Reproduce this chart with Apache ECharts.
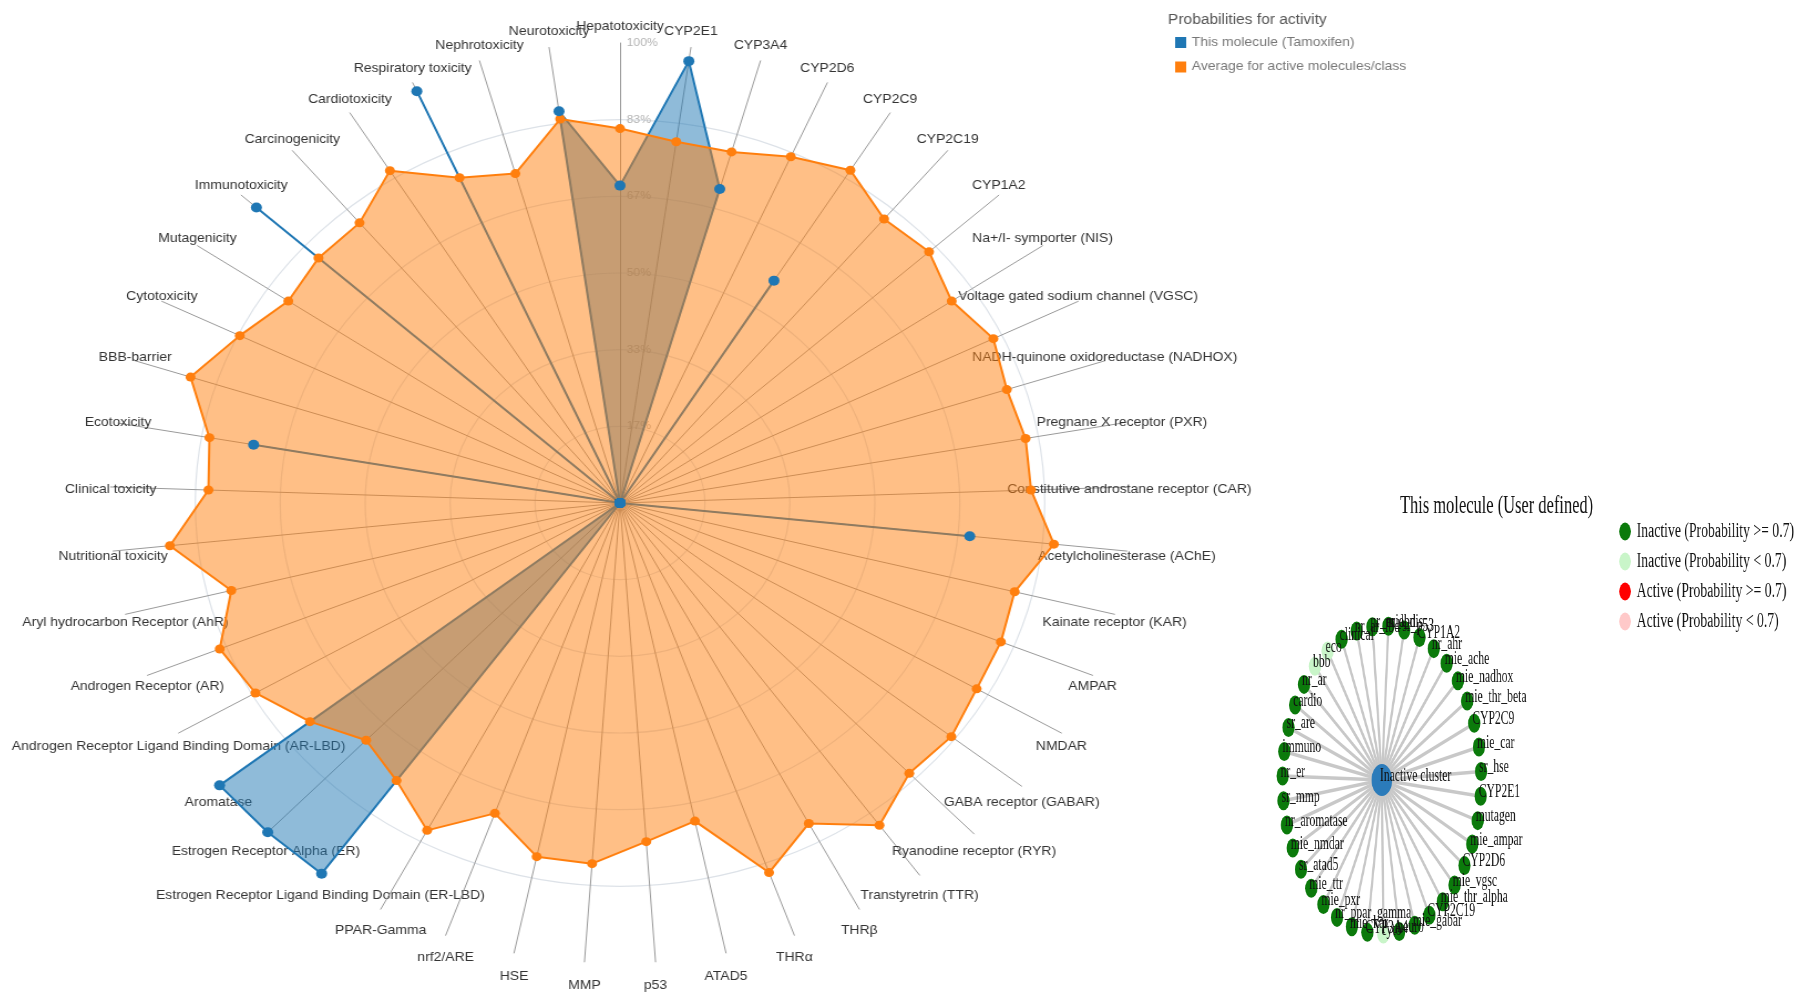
<!DOCTYPE html>
<html><head><meta charset="utf-8">
<script src="https://cdn.jsdelivr.net/npm/echarts@6/dist/echarts.min.js"></script>
<style>
html,body{margin:0;padding:0;background:#fff;width:1810px;height:1003px;overflow:hidden;}
#radar{position:absolute;left:0;top:0;width:1400px;height:1003px;transform-origin:620px 503px;transform:scaleX(1.108);}
#net{position:absolute;left:1180px;top:0;width:960px;height:1003px;transform-origin:0 0;transform:scaleX(0.645);}
</style></head><body>
<div id="radar"></div><div id="net"></div>
<script>
// ---------- Radar data (clockwise from top) ----------
const indicatorNames = ['Hepatotoxicity','CYP2E1','CYP3A4','CYP2D6','CYP2C9','CYP2C19','CYP1A2',
  'Na+/I- symporter (NIS)','Voltage gated sodium channel (VGSC)','NADH-quinone oxidoreductase (NADHOX)',
  'Pregnane X receptor (PXR)','Constitutive androstane receptor (CAR)','Acetylcholinesterase (AChE)',
  'Kainate receptor (KAR)','AMPAR','NMDAR','GABA receptor (GABAR)','Ryanodine receptor (RYR)',
  'Transtyretrin (TTR)','THRβ','THRα','ATAD5','p53','MMP','HSE','nrf2/ARE','PPAR-Gamma',
  'Estrogen Receptor Ligand Binding Domain (ER-LBD)','Estrogen Receptor Alpha (ER)','Aromatase',
  'Androgen Receptor Ligand Binding Domain (AR-LBD)','Androgen Receptor (AR)','Aryl hydrocarbon Receptor (AhR)',
  'Nutritional toxicity','Clinical toxicity','Ecotoxicity','BBB-barrier','Cytotoxicity','Mutagenicity',
  'Immunotoxicity','Carcinogenicity','Cardiotoxicity','Respiratory toxicity','Nephrotoxicity','Neurotoxicity'];
const thisMolecule = [69,97,71,0,57,0,0,0,0,0,0,0,69,0,0,0,0,0,0,0,0,0,0,0,0,0,0,
  99.6,99.5,99.7,0,0,0,0,0,73,0,0,0,96,0,0,98,0,86];
const averageActive = [81.4,79.3,79.4,82.4,85.3,80.6,81.6,78.5,81.5,79.8,80.8,80.7,85.6,79.8,80.6,80.8,
  82.5,81.7,86.6,78.9,85.5,70.7,73.8,78.6,78.6,71.8,80.6,74.6,71.7,77.2,82.6,84.7,78.6,88.8,80.8,81.8,
  88.6,83.0,78.5,79.6,79.5,85.2,77.4,74.5,84.3];
const seriesNames = ['This molecule (Tamoxifen)','Average for active molecules/class'];
const legendTitle = 'Probabilities for activity';

// ---------- Network data (clockwise from top) ----------
const hubName = 'Inactive cluster';
const nodeNames = ['sr_p53','CYP1A2','nr_ahr','mie_ache','mie_nadhox','mie_thr_beta','CYP2C9','mie_car',
  'sr_hse','CYP2E1','mutagen','mie_ampar','CYP2D6','mie_vgsc','mie_thr_alpha','CYP2C19','mie_gabar','neuro',
  'cyto','CYP3A4','mie_kar','nr_ppar_gamma','mie_pxr','mie_ttr','sr_atad5','mie_nmdar','nr_aromatase',
  'sr_mmp','nr_er','immuno','sr_are','cardio','nr_ar','bbb','eco','clinical','nr_ar_lbd','nr_er_lbd','mie_nis'];
// 0 = Inactive >=0.7, 1 = Inactive <0.7
const nodeClass = nodeNames.map(n => (n === 'bbb' || n === 'cyto' || n === 'eco') ? 1 : 0);
const classNames = ['Inactive (Probability >= 0.7)','Inactive (Probability < 0.7)',
  'Active (Probability >= 0.7)','Active (Probability < 0.7)'];
const netTitle = 'This molecule (User defined)';

// ---------- Radar chart ----------
const FONT = "'Liberation Sans', Arial, sans-serif";
const n = indicatorNames.length;
const order = [0].concat(Array.from({length: n - 1}, (_, i) => n - 1 - i)); // ECharts runs counter-clockwise
const nameRich = {};
indicatorNames.forEach((nm, k) => {
  const c = Math.cos(k * 2 * Math.PI / n);
  const d = c > 0 ? 3 - 19 * c : 3 - 21 * c; // downward shift of the name
  nameRich['p' + k] = {padding: d >= 0 ? [2 * d, 0, 0, 0] : [0, 0, -2 * d, 0],
    fontSize: 12.6, fontFamily: FONT, color: '#333'};
});
const indicators = order.map((k, pos) => {
  const ind = {name: indicatorNames[k], min: 0, max: 100, nameGap: 0, nameMoveOverlap: false};
  if (pos === 0) ind.axisLabel = {show: true};
  return ind;
});
const radar = echarts.init(document.getElementById('radar'));
radar.setOption({
  animation: false,
  title: {text: legendTitle, left: 1114.6, top: 13.5, padding: 0,
    textStyle: {color: '#555', fontSize: 14, fontWeight: 'normal', fontFamily: FONT}},
  legend: {data: seriesNames, orient: 'vertical', left: 1121, top: 36, itemWidth: 10, itemHeight: 11,
    itemGap: 11.5, icon: 'rect', padding: 0,
    textStyle: {color: '#777', fontSize: 12.6, fontFamily: FONT}},
  radar: {
    center: [620, 503], radius: 460, startAngle: 90, splitNumber: 6, shape: 'circle',
    indicator: indicators,
    axisName: {color: '#333', fontSize: 12.6, fontFamily: FONT, align: 'center', verticalAlign: 'middle',
      rich: nameRich, formatter: nm => '{p' + indicatorNames.indexOf(nm) + '|' + nm + '}'},
    axisLine: {lineStyle: {color: '#9a9a9a', width: 1}},
    axisTick: {show: false},
    axisLabel: {show: false, color: '#b4b4b4', fontSize: 11, fontFamily: FONT, margin: -6, align: 'left',
      formatter: v => (v <= 0 ? '' : Math.round(v) + '%')},
    splitLine: {lineStyle: {color: ['rgba(0,0,0,0)','#dde2e8','#dde2e8','#dde2e8','#dde2e8','#dde2e8','rgba(0,0,0,0)'], width: 1.2}},
    splitArea: {show: false}
  },
  series: [
    {type: 'radar', z: 2, symbol: 'none', data: [{name: seriesNames[0],
      value: order.map(k => thisMolecule[k]),
      itemStyle: {color: '#1f77b4'}, lineStyle: {color: '#1f77b4', width: 2},
      areaStyle: {color: '#1f77b4', opacity: 0.5}}]},
    {type: 'radar', z: 3, symbol: 'circle', symbolSize: 9, data: [{name: seriesNames[1],
      value: order.map(k => averageActive[k]),
      itemStyle: {color: '#ff7f0e'}, lineStyle: {color: '#ff7f0e', width: 2},
      areaStyle: {color: '#ff7f0e', opacity: 0.5}}]},
    {type: 'radar', z: 4, symbol: 'circle', symbolSize: 10, data: [{name: seriesNames[0],
      value: order.map(k => thisMolecule[k]),
      itemStyle: {color: '#1f77b4'}, lineStyle: {width: 0, opacity: 0}}]}
  ]
});

// ---------- Network chart ----------
const SERIF = "'Liberation Serif', 'Times New Roman', serif";
const classColors = ['#0b7a0b', '#c9f5c9', '#ff0000', '#ffc9c9'];
const nodes = [{name: hubName, value: [0, nodeNames[0]], symbolSize: 32, itemStyle: {color: '#2b7bba'}}]
  .concat(nodeNames.map((nm, i) => ({name: nm, value: [1, nm], category: nodeClass[i]})));
const links = nodeNames.map(nm => ({source: hubName, target: nm}));
const net = echarts.init(document.getElementById('net'));
net.setOption({
  animation: false,
  title: {text: netTitle, left: 341, top: 493, padding: 0,
    textStyle: {fontFamily: SERIF, fontSize: 25.5, fontWeight: 'normal', color: '#111'}},
  legend: {data: classNames, orient: 'vertical', left: 681, top: 521, padding: 0, itemWidth: 18, itemHeight: 18,
    itemGap: 9, icon: 'circle',
    textStyle: {fontFamily: SERIF, fontSize: 21.3, color: '#111', lineHeight: 18, padding: [0, 0, 0, 4]}},
  polar: {center: [313, 780], radius: 154},
  angleAxis: {type: 'category', data: nodeNames, startAngle: 90 - 13 + 180 / nodeNames.length, clockwise: true,
    boundaryGap: true, show: false},
  radiusAxis: {type: 'value', min: 0, max: 1, show: false},
  series: [{
    type: 'graph', coordinateSystem: 'polar', symbolSize: 19,
    categories: classNames.map((nm, i) => ({name: nm, itemStyle: {color: classColors[i]}})),
    data: nodes, links: links,
    lineStyle: {color: '#c8c8c8', width: 3.5, opacity: 1, curveness: 0},
    label: {show: true, position: 'inside', align: 'left', offset: [-3, -4],
      fontFamily: SERIF, fontSize: 18, color: '#111'},
    emphasis: {disabled: true}
  }]
});
</script>
</body></html>
